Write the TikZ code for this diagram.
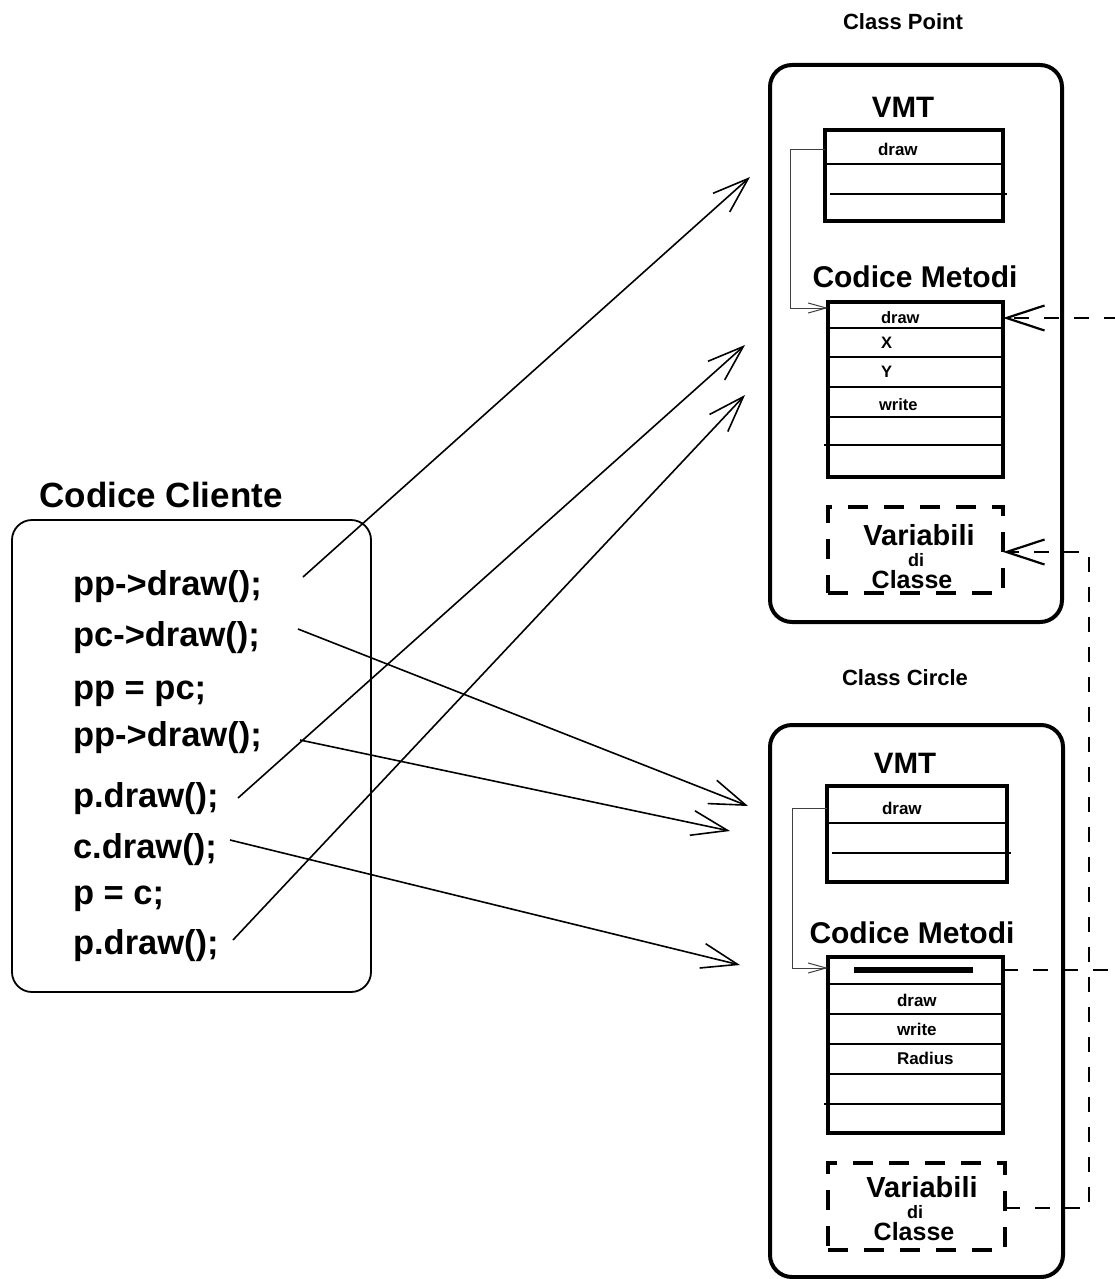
\documentclass[tikz,border=0pt]{standalone}
\usepackage{fontspec}
\setmainfont{Liberation Sans}
\usetikzlibrary{arrows.meta}
\begin{document}
\begin{tikzpicture}[x=1pt,y=-1pt,
  txt/.style={inner sep=0pt,outer sep=0pt,font=\fontsize{#1}{#1}\selectfont\bfseries},
  classbox/.style={draw,line width=4pt,rounded corners=22pt,inner sep=0pt,outer sep=0pt},
  clientframe/.style={draw,line width=1.8pt,rounded corners=20pt,inner sep=0pt,outer sep=0pt},
  tablebox/.style={draw,line width=4pt,inner sep=0pt,outer sep=0pt},
  varbox/.style={draw,line width=4pt,dash pattern=on 20pt off 16pt,inner sep=0pt,outer sep=0pt},
  rowline/.style={line width=2pt},
  call/.style={line width=1.6pt,-{Straight Barb[length=36pt,width=25pt,line width=1.6pt]}},
  vlink/.style={line width=1pt,black!75,-{Straight Barb[length=18pt,width=10pt,line width=1pt]}},
  inherit/.style={line width=2.2pt,dash pattern=on 15pt off 15pt,-{Straight Barb[length=38pt,width=25pt,line width=2.2pt]}},
]
\useasboundingbox (0,0) rectangle (1115,1279);
\clip (0,0) rectangle (1115,1279);

% ---------- client code ----------
\node[txt=35] (clientTitle) at (161,495) {Codice Cliente};
\node[clientframe,minimum width=359,minimum height=472] (client) at (191.5,756) {};
\node[txt=34.5,anchor=base west] (l1) at (73,595) {pp->draw();};
\node[txt=34.5,anchor=base west] (l2) at (73,646) {pc->draw();};
\node[txt=34.5,anchor=base west] (l3) at (73,699) {pp = pc;};
\node[txt=34.5,anchor=base west] (l4) at (73,746) {pp->draw();};
\node[txt=34.5,anchor=base west] (l5) at (73,807) {p.draw();};
\node[txt=34.5,anchor=base west] (l6) at (73,858) {c.draw();};
\node[txt=34.5,anchor=base west] (l7) at (73,904) {p = c;};
\node[txt=34.5,anchor=base west] (l8) at (73,954) {p.draw();};

% ---------- class Point ----------
\node[txt=22] (pTitle) at (903,22) {Class Point};
\node[classbox,minimum width=292,minimum height=557] (pbox) at (916,343.5) {};
\node[txt=29.5] (pVmtTitle) at (903,107) {VMT};
\node[tablebox,minimum width=178,minimum height=91] (pvmt) at (914,175.5) {};
\draw[rowline] (825,164) -- (1003,164);
\draw[rowline] (830,194) -- (1007,194);
\node[txt=17,anchor=west] (pvDraw) at (878,149) {draw};

\node[txt=30] (pCodeTitle) at (915,277) {Codice Metodi};
\node[tablebox,minimum width=175,minimum height=175] (pmeth) at (915.5,389.5) {};
\draw[rowline] (828,328) -- (1003,328);
\draw[rowline] (828,357) -- (1003,357);
\draw[rowline] (828,387) -- (1003,387);
\draw[rowline] (828,417) -- (1003,417);
\draw[rowline] (824,445) -- (1003,445);
\node[txt=16.5,anchor=west] (pmDraw) at (881,318) {draw};
\node[txt=16.5,anchor=west] (pmX) at (881,343) {X};
\node[txt=16.5,anchor=west] (pmY) at (881,372) {Y};
\node[txt=16.5,anchor=west] (pmWrite) at (879,405) {write};

\node[varbox,minimum width=175,minimum height=86] (pvar) at (915.5,550) {};
\node[txt=29] (pvar1) at (919,535) {Variabili};
\node[txt=18] (pvar2) at (916,560) {di};
\node[txt=25] (pvar3) at (912,580) {Classe};

% ---------- class Circle ----------
\node[txt=22] (cTitle) at (905,678) {Class Circle};
\node[classbox,minimum width=293,minimum height=552] (cbox) at (916.5,1001) {};
\node[txt=29.5] (cVmtTitle) at (905,763) {VMT};
\node[tablebox,minimum width=180,minimum height=96] (cvmt) at (917,834) {};
\draw[rowline] (827,823) -- (1007,823);
\draw[rowline] (832,853) -- (1011,853);
\node[txt=17,anchor=west] (cvDraw) at (882,808) {draw};

\node[txt=30] (cCodeTitle) at (912,933) {Codice Metodi};
\node[tablebox,minimum width=175,minimum height=176] (cmeth) at (915.5,1045) {};
\draw[rowline] (828,984) -- (1003,984);
\draw[rowline] (828,1014) -- (1003,1014);
\draw[rowline] (828,1044) -- (1003,1044);
\draw[rowline] (828,1074) -- (1003,1074);
\draw[rowline] (824,1104) -- (1003,1104);
\draw[line width=6pt] (854,970) -- (973,970);
\node[txt=17,anchor=west] (cmDraw) at (897,1000) {draw};
\node[txt=17,anchor=west] (cmWrite) at (897,1029) {write};
\node[txt=17,anchor=west] (cmRadius) at (897,1058) {Radius};

\node[varbox,minimum width=177,minimum height=87] (cvar) at (916.5,1206.5) {};
\node[txt=29] (cvar1) at (922,1187) {Variabili};
\node[txt=18] (cvar2) at (915,1212) {di};
\node[txt=25] (cvar3) at (914,1232) {Classe};

% ---------- VMT entries pointing to method code ----------
\draw[vlink] (pvmt.west |- pvDraw) -- (790,149) -- (790,308) -- (pmeth.west |- 0,308);
\draw[vlink] (cvmt.west |- cvDraw) -- (792,808) -- (792,968) -- (cmeth.west |- 0,968);

% ---------- calls from client code ----------
\coordinate (s1) at (303,577);  \coordinate (t1) at (750,177);
\coordinate (s2) at (298,629);  \coordinate (t2) at (748,806);
\coordinate (s3) at (300,740);  \coordinate (t3) at (730,831);
\coordinate (s4) at (238,798);  \coordinate (t4) at (745,345);
\coordinate (s5) at (230,840);  \coordinate (t5) at (740,965);
\coordinate (s6) at (233,940);  \coordinate (t6) at (745,395);
\draw[call] (s1) -- (t1);
\draw[call] (s2) -- (t2);
\draw[call] (s3) -- (t3);
\draw[call] (s4) -- (t4);
\draw[call] (s5) -- (t5);
\draw[call] (s6) -- (t6);

% ---------- Circle inherits from Point ----------
\draw[inherit] (cmeth.east |- 0,970) -- (1140,970) -- (1140,318) -- (pmeth.east |- 0,318);
\draw[inherit] (cvar.east |- 0,1208) -- (1089,1208) -- (1089,552) -- (pvar.east |- 0,552);
\end{tikzpicture}
\end{document}
